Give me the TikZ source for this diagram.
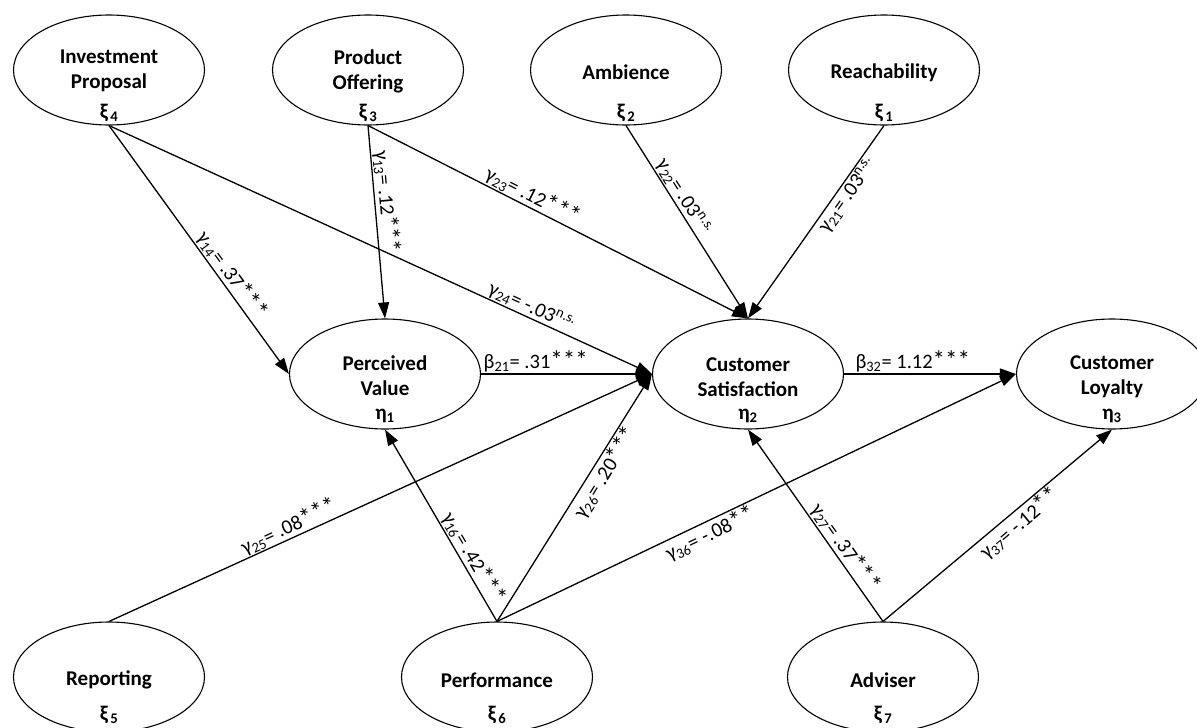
\documentclass[tikz,border=0pt]{standalone}
\usepackage{fontspec}
\setmainfont{Carlito}
\usetikzlibrary{arrows.meta,shapes.geometric}
\newcommand{\stz}{{\fontsize{25}{25}\selectfont *}}
\begin{document}
\begin{tikzpicture}[x=1pt,y=-1pt,
  lv/.style={ellipse,draw,line width=1.1pt,minimum width=191pt,minimum height=110pt,inner sep=0pt},
  nt/.style={font=\fontsize{21}{25}\selectfont\bfseries,align=center,inner sep=0pt},
  arr/.style={line width=1.3pt,-{Triangle[length=16pt,width=11pt]}},
  lab/.style={font=\fontsize{20.5}{24}\selectfont,sloped,inner sep=1pt},
]
\useasboundingbox (0,0) rectangle (1197,728);
% latent variables
\node[lv] (IP) at (109,70) {};
\node[lv] (PO) at (368,70) {};
\node[lv] (AM) at (626,70) {};
\node[lv] (RE) at (884,70) {};
\node[lv] (PV) at (385,374) {};
\node[lv] (CS) at (748,374) {};
\node[lv] (CL) at (1112,374) {};
\node[lv] (RP) at (109,677) {};
\node[lv] (PF) at (497,677) {};
\node[lv] (AD) at (883,677) {};
% texts
\node[nt] (IPt) at (109,71) {Investment\\Proposal};
\node[nt] (IPg) at (109,113) {ξ\textsubscript{\,4}};
\node[nt] (POt) at (368,71) {Product\\Offering};
\node[nt] (POg) at (368,113) {ξ\textsubscript{\,3}};
\node[nt] (AMt) at (626,72) {Ambience};
\node[nt] (AMg) at (626,113) {ξ\textsubscript{\,2}};
\node[nt] (REt) at (884,73) {Reachability};
\node[nt] (REg) at (884,113) {ξ\textsubscript{\,1}};
\node[nt] (PVt) at (385,376) {Perceived\\Value};
\node[nt] (PVg) at (385,416) {η\textsubscript{1}};
\node[nt] (CSt) at (748,377) {Customer\\Satisfaction};
\node[nt] (CSg) at (748,416) {η\textsubscript{2}};
\node[nt] (CLt) at (1112,377) {Customer\\Loyalty};
\node[nt] (CLg) at (1112,416) {η\textsubscript{3}};
\node[nt] (RPt) at (109,680) {Reporting};
\node[nt] (RPg) at (109,715) {ξ\textsubscript{\,5}};
\node[nt] (PFt) at (497,680) {Performance};
\node[nt] (PFg) at (497,715) {ξ\textsubscript{\,6}};
\node[nt] (ADt) at (883,680) {Adviser};
\node[nt] (ADg) at (883,715) {ξ\textsubscript{\,7}};
% paths
\draw[arr] (IP.south) -- node[lab,above,pos=0.63] (l14) {γ\textsubscript{14}= .37\stz\stz\stz} (PV.west);
\draw[arr] (IP.south) -- node[lab,above,pos=0.77] (l24) {γ\textsubscript{24}= -.03\textsuperscript{n.s.}} (CS.west);
\draw[arr] (PO.south) -- node[lab,above,pos=0.40] (l13) {γ\textsubscript{13}= .12\stz\stz\stz} (PV.north);
\draw[arr] (PO.south) -- node[lab,above,pos=0.42] (l23) {γ\textsubscript{23}= .12\stz\stz\stz} (CS.north);
\draw[arr] (AM.south) -- node[lab,above,pos=0.40] (l22) {γ\textsubscript{22}= .03\textsuperscript{n.s.}} (CS.north);
\draw[arr] (RE.south) -- node[lab,below,pos=0.33] (l21) {γ\textsubscript{21}= .03\textsuperscript{n.s.}} (CS.north);
\draw[arr] (PV.east) -- node[lab,above,pos=0.32] (b21) {β\textsubscript{21}= .31\stz\stz\stz} (CS.west);
\draw[arr] (CS.east) -- node[lab,above,pos=0.40] (b32) {β\textsubscript{32}= 1.12\stz\stz\stz} (CL.west);
\draw[arr] (RP.north) -- node[lab,above,pos=0.34] (l25) {γ\textsubscript{25}= .08\stz\stz\stz} (CS.west);
\draw[arr] (PF.north) -- node[lab,above,pos=0.30] (l16) {γ\textsubscript{16}= .42\stz\stz\stz} (PV.south);
\draw[arr] (PF.north) -- node[lab,below,pos=0.63] (l26) {γ\textsubscript{26}= .20\stz\stz\stz} (CS.west);
\draw[arr] (PF.north) -- node[lab,below,pos=0.40] (l36) {γ\textsubscript{36}= -.08\stz\stz} (CL.west);
\draw[arr] (AD.north) -- node[lab,above,pos=0.35] (l27) {γ\textsubscript{27}= .37\stz\stz\stz} (CS.south);
\draw[arr] (AD.north) -- node[lab,below,pos=0.56] (l37) {γ\textsubscript{37}= -.12\stz\stz} (CL.south);
\end{tikzpicture}
\end{document}
